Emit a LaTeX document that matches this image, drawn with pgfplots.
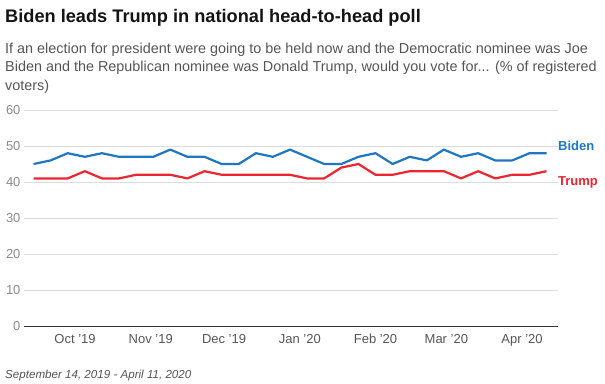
\documentclass[border=0pt]{standalone}
\usepackage{fontspec}
\setmainfont{Liberation Sans}
\usepackage{pgfplots}
\pgfplotsset{compat=1.18}
\definecolor{bidenblue}{HTML}{1F76C2}
\definecolor{trumpred}{HTML}{EC2630}
\definecolor{gridgray}{HTML}{DDDDDD}
\definecolor{ticktext}{HTML}{8A8A8A}
\definecolor{subtext}{HTML}{555555}
\begin{document}
\begin{tikzpicture}[x=1pt,y=1pt]
\useasboundingbox (0,0) rectangle (605,383);
\node[anchor=base west, inner sep=0pt, text=black!92] at (5,360) {\fontsize{18.2}{18.2}\selectfont\bfseries Biden leads Trump in national head-to-head poll};
\node[anchor=base west, inner sep=0pt, text=subtext] at (5,329.5) {\fontsize{14.4}{14.4}\selectfont If an election for president were going to be held now and the Democratic nominee was Joe};
\node[anchor=base west, inner sep=0pt, text=subtext] at (5,311) {\fontsize{14.4}{14.4}\selectfont Biden and the Republican nominee was Donald Trump, would you vote for... (\% of registered};
\node[anchor=base west, inner sep=0pt, text=subtext] at (5,292.5) {\fontsize{14.4}{14.4}\selectfont voters)};
\node[anchor=base west, inner sep=0pt, text=subtext] at (5,5) {\fontsize{11.6}{11.6}\selectfont\itshape September 14, 2019 - April 11, 2020};
\begin{axis}[
  at={(24pt,57pt)}, anchor=south west,
  width=534pt, height=216pt, scale only axis,
  xmin=-3.9, xmax=214.7, ymin=0, ymax=60,
  axis line style={draw=none},
  tick style={draw=none},
  ytick={0,10,20,30,40,50,60},
  ymajorgrids, grid style={gridgray, line width=0.9pt},
  extra y ticks={0}, extra y tick labels={},
  extra y tick style={grid style={black!80, line width=1pt}},
  xtick={17,48,78,109,140,169,200},
  xticklabels={Oct '19,Nov '19,Dec '19,Jan '20,Feb '20,Mar '20,Apr '20},
  /pgf/number format/assume math mode=true,
  yticklabel style={font=\fontsize{13}{13}\selectfont, text=ticktext},
  xticklabel style={font=\fontsize{13}{13}\selectfont, text=subtext, yshift=-5pt},
  clip=false,
]
\addplot[color=bidenblue, line width=2.2pt, line join=round] coordinates {
(0,45)(7,46)(14,48)(21,47)(28,48)(35,47)(42,47)(49,47)(56,49)(63,47)
(70,47)(77,45)(84,45)(91,48)(98,47)(105,49)(112,47)(119,45)(126,45)(133,47)
(140,48)(147,45)(154,47)(161,46)(168,49)(175,47)(182,48)(189,46)(196,46)(203,48)(210,48)
};
\addplot[color=trumpred, line width=2.2pt, line join=round] coordinates {
(0,41)(7,41)(14,41)(21,43)(28,41)(35,41)(42,42)(49,42)(56,42)(63,41)
(70,43)(77,42)(84,42)(91,42)(98,42)(105,42)(112,41)(119,41)(126,44)(133,45)
(140,42)(147,42)(154,43)(161,43)(168,43)(175,41)(182,43)(189,41)(196,42)(203,42)(210,43)
};
\node[anchor=west, inner sep=0pt, text=bidenblue] at (axis cs:214.7,50) {\fontsize{13}{13}\selectfont\bfseries Biden};
\node[anchor=west, inner sep=0pt, text=trumpred] at (axis cs:214.7,40) {\fontsize{13}{13}\selectfont\bfseries Trump};
\end{axis}
\end{tikzpicture}
\end{document}
